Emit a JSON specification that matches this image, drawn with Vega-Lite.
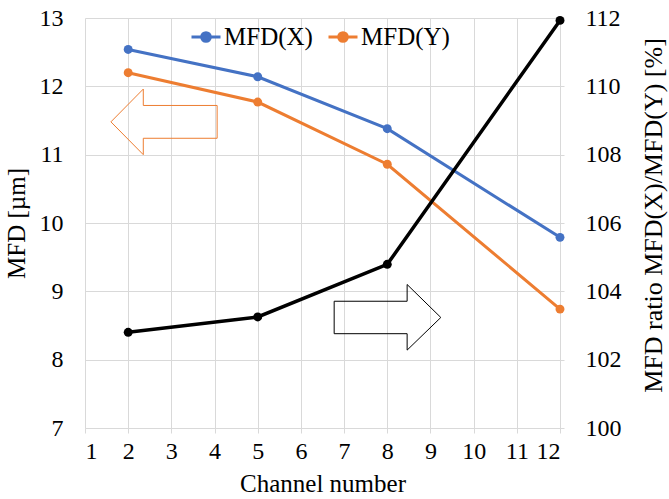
{
  "$schema": "https://vega.github.io/schema/vega-lite/v6.json",
  "autosize": {"type": "none"},
  "width": 475,
  "height": 410,
  "padding": {"left": 85, "top": 18, "right": 109, "bottom": 71},
  "background": "white",
  "config": {
    "font": "Liberation Serif",
    "view": {"stroke": null},
    "axis": {"labelColor": "#000000", "titleColor": "#000000", "labelFont": "Liberation Serif", "titleFont": "Liberation Serif", "titleFontWeight": "normal"},
    "legend": {"labelFont": "Liberation Serif"}
  },
  "datasets": {
    "mfd": [
      {"ch": 2, "series": "MFD(X)", "mfd": 12.54},
      {"ch": 5, "series": "MFD(X)", "mfd": 12.14},
      {"ch": 8, "series": "MFD(X)", "mfd": 11.38},
      {"ch": 12, "series": "MFD(X)", "mfd": 9.79},
      {"ch": 2, "series": "MFD(Y)", "mfd": 12.2},
      {"ch": 5, "series": "MFD(Y)", "mfd": 11.77},
      {"ch": 8, "series": "MFD(Y)", "mfd": 10.86},
      {"ch": 12, "series": "MFD(Y)", "mfd": 8.74}
    ],
    "ratio": [
      {"ch": 2, "ratio": 102.8},
      {"ch": 5, "ratio": 103.25},
      {"ch": 8, "ratio": 104.79},
      {"ch": 12, "ratio": 111.93}
    ],
    "arrowL": [
      {"i": 0, "x": 1.6, "y": 11.48},
      {"i": 1, "x": 2.35, "y": 11.96},
      {"i": 2, "x": 2.35, "y": 11.72},
      {"i": 3, "x": 4.06, "y": 11.72},
      {"i": 4, "x": 4.06, "y": 11.24},
      {"i": 5, "x": 2.35, "y": 11.24},
      {"i": 6, "x": 2.35, "y": 11.0},
      {"i": 7, "x": 1.6, "y": 11.48}
    ],
    "arrowR": [
      {"i": 0, "x": 6.77, "y": 103.71},
      {"i": 1, "x": 8.46, "y": 103.71},
      {"i": 2, "x": 8.46, "y": 104.2},
      {"i": 3, "x": 9.24, "y": 103.235},
      {"i": 4, "x": 8.46, "y": 102.28},
      {"i": 5, "x": 8.46, "y": 102.76},
      {"i": 6, "x": 6.77, "y": 102.76},
      {"i": 7, "x": 6.77, "y": 103.71}
    ]
  },
  "layer": [
    {
      "layer": [
        {
          "data": {"name": "arrowL"},
          "mark": {"type": "line", "stroke": "#ED7D31", "strokeWidth": 1},
          "encoding": {
            "x": {"field": "x", "type": "quantitative", "scale": {"domain": [1, 12], "nice": false},
              "axis": {"values": [1,2,3,4,5,6,7,8,9,10,11,12], "format": "d", "grid": true, "gridColor": "#d9d9d9", "domainColor": "#d9d9d9", "tickColor": "#d9d9d9", "tickSize": 5, "labelFont": "Liberation Serif", "labelFontSize": 24, "labelPadding": 6, "title": "Channel number", "titleFont": "Liberation Serif", "titleFontSize": 25, "titlePadding": 8}},
            "y": {"field": "y", "type": "quantitative", "scale": {"domain": [7, 13], "nice": false},
              "axis": {"values": [7,8,9,10,11,12,13], "format": "d", "grid": true, "gridColor": "#d9d9d9", "domain": false, "ticks": false, "labelFont": "Liberation Serif", "labelFontSize": 24, "labelPadding": 22, "title": "MFD [µm]", "titleFont": "Liberation Serif", "titleFontSize": 25, "titlePadding": 10}},
            "order": {"field": "i", "type": "quantitative"}
          }
        },
        {
          "data": {"name": "mfd"},
          "mark": {"type": "line", "strokeWidth": 3},
          "encoding": {
            "x": {"field": "ch", "type": "quantitative"},
            "y": {"field": "mfd", "type": "quantitative"},
            "color": {"field": "series", "type": "nominal",
              "scale": {"domain": ["MFD(X)", "MFD(Y)"], "range": ["#4472C4", "#ED7D31"]},
              "legend": {"title": null, "orient": "none", "legendX": 105, "legendY": 3, "direction": "horizontal",
                "labelFont": "Liberation Serif", "labelFontSize": 25, "labelColor": "#000000", "labelOffset": 2, "columnPadding": 9,
                "symbolType": "M-1,0L1,0M0.3,0A0.3,0.3,0,1,1,-0.3,0A0.3,0.3,0,1,1,0.3,0Z",
                "symbolSize": 841, "symbolStrokeWidth": 3,
                "encode": {"symbols": {"update": {"fill": {"field": "value", "scale": "color"}, "stroke": {"field": "value", "scale": "color"}, "opacity": {"value": 1}}}}}}
          }
        },
        {
          "data": {"name": "mfd"},
          "mark": {"type": "point", "filled": true, "size": 80, "opacity": 1},
          "encoding": {
            "x": {"field": "ch", "type": "quantitative"},
            "y": {"field": "mfd", "type": "quantitative"},
            "color": {"field": "series", "type": "nominal"}
          }
        }
      ]
    },
    {
      "layer": [
        {
          "data": {"name": "arrowR"},
          "mark": {"type": "line", "stroke": "#000000", "strokeWidth": 1},
          "encoding": {
            "x": {"field": "x", "type": "quantitative"},
            "y": {"field": "y", "type": "quantitative", "scale": {"domain": [100, 112], "nice": false},
              "axis": {"orient": "right", "values": [100,102,104,106,108,110,112], "format": "d", "grid": false, "domainColor": "#d9d9d9", "tickColor": "#d9d9d9", "tickSize": 4, "labelFont": "Liberation Serif", "labelFontSize": 24, "labelPadding": 21, "title": "MFD ratio MFD(X)/MFD(Y) [%]", "titleFont": "Liberation Serif", "titleFontSize": 26, "titleAngle": 270, "titleBaseline": "top", "titlePadding": 19, "titleY": 197}},
            "order": {"field": "i", "type": "quantitative"}
          }
        },
        {
          "data": {"name": "ratio"},
          "mark": {"type": "line", "stroke": "#000000", "strokeWidth": 3.5},
          "encoding": {
            "x": {"field": "ch", "type": "quantitative"},
            "y": {"field": "ratio", "type": "quantitative"}
          }
        },
        {
          "data": {"name": "ratio"},
          "mark": {"type": "point", "filled": true, "size": 80, "color": "#000000", "opacity": 1},
          "encoding": {
            "x": {"field": "ch", "type": "quantitative"},
            "y": {"field": "ratio", "type": "quantitative"}
          }
        }
      ]
    }
  ],
  "resolve": {"scale": {"y": "independent"}}
}
